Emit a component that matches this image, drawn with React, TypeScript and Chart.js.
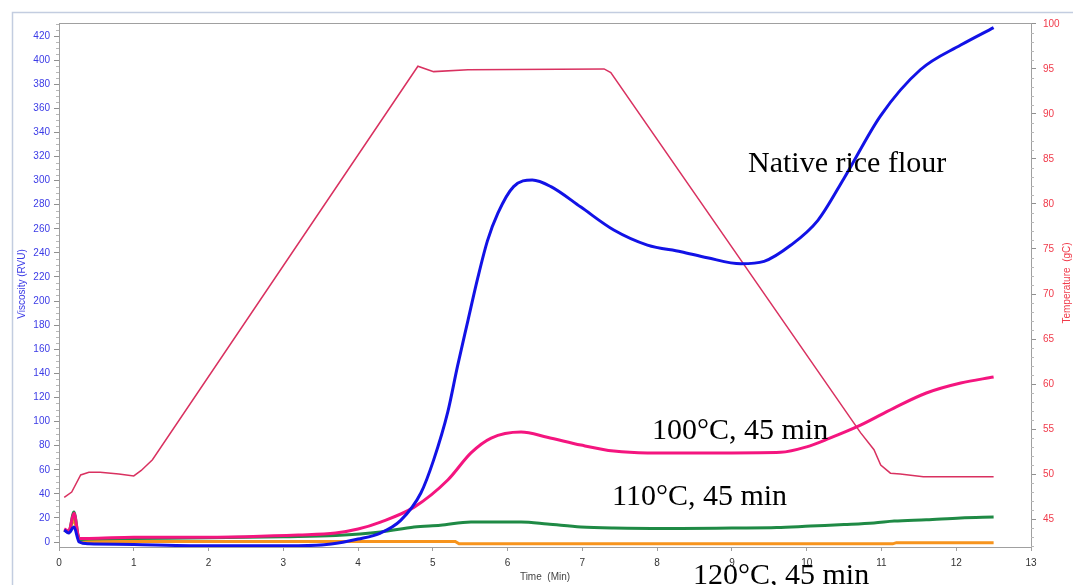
import React, { useEffect, useRef } from "react";
import { Chart, registerables } from "chart.js";

Chart.register(...registerables);

// ---- Data (time in min) ----
const nativeTime = [0.07, 0.13, 0.2, 0.27, 0.4, 1.0, 1.76, 2.5, 3.2, 3.64, 4.0, 4.3, 4.57, 4.84, 5.01, 5.2, 5.33, 5.47, 5.6, 5.73, 5.87, 6.08, 6.33, 6.58, 6.98, 7.42, 7.87, 8.32, 8.67, 9.12, 9.43, 9.79, 10.15, 10.5, 10.99, 11.52, 12.06, 12.5];
const nativeVisc = [10, 7.5, 12.5, 0, -1.5, -2, -3, -3, -3, -1.7, 2.5, 7.5, 18, 40.7, 68, 108, 146, 184, 219, 250, 273, 295, 300.5, 295, 278, 259, 246.5, 241, 236, 231, 233, 246.5, 267, 302, 354, 392, 412.5, 427];

const t100Time = [0.07, 0.13, 0.2, 0.27, 0.4, 1.0, 1.76, 2.5, 3.2, 3.7, 4.0, 4.3, 4.75, 5.2, 5.51, 5.78, 6.18, 6.53, 6.98, 7.42, 7.87, 8.32, 9.0, 9.65, 10.0, 10.3, 10.72, 11.16, 11.6, 12.06, 12.5];
const t100Visc = [11, 9, 24, 3, 3, 4, 4, 4.5, 5.8, 7.5, 10.8, 16.6, 29, 51.5, 74, 86.3, 91.3, 87, 80.5, 75.5, 74, 74, 74, 74.5, 79, 86, 97, 111, 123.7, 132, 137];

const t110Time = [0.07, 0.13, 0.2, 0.27, 0.4, 1.0, 2.0, 3.0, 3.7, 4.3, 4.75, 5.1, 5.51, 6.18, 6.53, 6.98, 7.42, 8.32, 9.0, 9.6, 10.05, 10.5, 10.9, 11.17, 11.6, 12.06, 12.5];
const t110Visc = [10, 8, 25, 2, 2.5, 3, 3.5, 4.5, 5.5, 8.3, 12.5, 14, 16.6, 16.6, 15, 12.5, 11.6, 11.2, 11.6, 12, 13.3, 14.5, 15.8, 17.4, 18.5, 20, 20.7];

const t120Time = [0.07, 0.13, 0.2, 0.27, 0.4, 2.0, 4.0, 5.3, 5.35, 8.0, 11.15, 11.2, 12.5];
const t120Visc = [10, 8, 20, 1, 0.5, 0.5, 0.5, 0.5, -1.5, -1.5, -1.5, -0.5, -0.5];

const tempTime = [0.07, 0.17, 0.29, 0.4, 0.55, 0.8, 1.0, 1.1, 1.25, 4.8, 5.01, 5.47, 7.29, 7.38, 10.72, 10.9, 10.99, 11.12, 11.25, 11.56, 12.5];
const tempValues = [47.4, 48.0, 49.9, 50.2, 50.2, 50.0, 49.8, 50.4, 51.6, 95.3, 94.7, 94.9, 95.0, 94.6, 54.6, 52.7, 51.0, 50.1, 50.0, 49.7, 49.7];

// ---- Tick labels ----
const viscTicks = [0, 20, 40, 60, 80, 100, 120, 140, 160, 180, 200, 220, 240, 260, 280, 300, 320, 340, 360, 380, 400, 420];
const tempTicks = [45, 50, 55, 60, 65, 70, 75, 80, 85, 90, 95, 100];
const timeTicks = [0, 1, 2, 3, 4, 5, 6, 7, 8, 9, 10, 11, 12, 13];

// ---- Texts ----
const viscTitle = "Viscosity (RVU)";
const tempTitle = "Temperature  (gC)";
const timeTitle = "Time  (Min)";
const labelNative = "Native rice flour";
const label100 = "100°C, 45 min";
const label110 = "110°C, 45 min";
const label120 = "120°C, 45 min";

const pts = (t: number[], v: number[]) => t.map((x, i) => ({ x, y: v[i] }));

const decor = {
  id: "decor",
  beforeDraw(chart: any) {
    const { ctx } = chart;
    ctx.save();
    ctx.fillStyle = "#ffffff";
    ctx.fillRect(0, 0, chart.width, chart.height);
    ctx.strokeStyle = "#c3cde0";
    ctx.lineWidth = 1.5;
    ctx.strokeRect(12.5, 12.5, chart.width + 50, chart.height + 50);
    ctx.restore();
  },
  afterDraw(chart: any) {
    const { ctx, chartArea } = chart;
    const y = chart.scales.y;
    const y1 = chart.scales.y1;
    ctx.save();
    // plot border (top/right)
    ctx.strokeStyle = "#a0a0a0";
    ctx.lineWidth = 1;
    ctx.strokeRect(chartArea.left + 0.5, chartArea.top + 0.5, chartArea.right - chartArea.left, chartArea.bottom - chartArea.top);
    // minor ticks
    ctx.strokeStyle = "#b8b8b8";
    ctx.beginPath();
    for (let v = 0; v <= 430; v += 5) {
      if (v % 20 === 0) continue;
      const py = Math.round(y.getPixelForValue(v)) + 0.5;
      ctx.moveTo(chartArea.left - 3, py);
      ctx.lineTo(chartArea.left, py);
    }
    for (let v = 42; v <= 100; v += 1) {
      if (v % 5 === 0) continue;
      const py = Math.round(y1.getPixelForValue(v)) + 0.5;
      ctx.moveTo(chartArea.right, py);
      ctx.lineTo(chartArea.right + 3, py);
    }
    ctx.stroke();

    // axis titles
    ctx.font = "10px 'Liberation Sans', Arial, sans-serif";
    ctx.textAlign = "center";
    ctx.textBaseline = "middle";
    ctx.fillStyle = "#3b3be6";
    ctx.save();
    ctx.translate(22, 284);
    ctx.rotate(-Math.PI / 2);
    ctx.fillText(viscTitle, 0, 0);
    ctx.restore();
    ctx.fillStyle = "#f03a4a";
    ctx.save();
    ctx.translate(1067, 283);
    ctx.rotate(-Math.PI / 2);
    ctx.fillText(tempTitle, 0, 0);
    ctx.restore();
    ctx.fillStyle = "#444444";
    ctx.fillText(timeTitle, 545, 577);

    // annotations
    ctx.fillStyle = "#000000";
    ctx.font = "30px 'Liberation Serif', 'Times New Roman', serif";
    ctx.textAlign = "left";
    ctx.textBaseline = "alphabetic";
    ctx.fillText(labelNative, 748, 172);
    ctx.fillText(label100, 652, 439);
    ctx.fillText(label110, 612, 505);
    ctx.fillText(label120, 693, 584);
    ctx.restore();
  },
};

export default function App() {
  const ref = useRef<HTMLCanvasElement>(null);
  useEffect(() => {
    const canvas = ref.current;
    if (!canvas) return;
    const tickFont = { family: "'Liberation Sans', Arial, sans-serif", size: 10 };
    const chart = new Chart(canvas, {
      type: "line",
      data: {
        datasets: [
          { label: "Native rice flour", data: pts(nativeTime, nativeVisc), borderColor: "#1212e6", borderWidth: 3, yAxisID: "y", cubicInterpolationMode: "monotone", order: 0 },
          { label: "100°C, 45 min", data: pts(t100Time, t100Visc), borderColor: "#f4157f", borderWidth: 3, yAxisID: "y", cubicInterpolationMode: "monotone", order: 1 },
          { label: "110°C, 45 min", data: pts(t110Time, t110Visc), borderColor: "#1f8a45", borderWidth: 3, yAxisID: "y", cubicInterpolationMode: "monotone", order: 2 },
          { label: "120°C, 45 min", data: pts(t120Time, t120Visc), borderColor: "#f7941d", borderWidth: 3, yAxisID: "y", tension: 0, order: 3 },
          { label: "Temperature", data: pts(tempTime, tempValues), borderColor: "#d93160", borderWidth: 1.5, yAxisID: "y1", tension: 0, order: 4 },
        ],
      } as any,
      options: {
        responsive: false,
        animation: false,
        devicePixelRatio: 1,
        layout: { padding: { top: 23, left: 0, right: 0, bottom: 0 } },
        elements: { point: { radius: 0 } },
        plugins: { legend: { display: false }, tooltip: { enabled: false } },
        scales: {
          x: {
            type: "linear",
            min: 0,
            max: 13,
            afterBuildTicks: (a: any) => { a.ticks = timeTicks.map((v) => ({ value: v })); },
            afterFit: (s: any) => { s.height = 38; },
            grid: { drawOnChartArea: false, drawTicks: true, tickLength: 4, color: "#a0a0a0" },
            border: { display: true, color: "#a0a0a0" },
            ticks: { color: "#333333", padding: 6, font: tickFont, maxRotation: 0, autoSkip: false },
          },
          y: {
            type: "linear",
            position: "left",
            min: -4.1,
            max: 430.8,
            afterBuildTicks: (a: any) => { a.ticks = viscTicks.map((v) => ({ value: v })); },
            afterFit: (s: any) => { s.width = 59; },
            grid: { drawOnChartArea: false, drawTicks: true, tickLength: 5, color: "#909090" },
            border: { display: true, color: "#a0a0a0" },
            ticks: { color: "#3b3be6", padding: 4, font: tickFont, autoSkip: false },
          },
          y1: {
            type: "linear",
            position: "right",
            min: 41.9,
            max: 100.1,
            afterBuildTicks: (a: any) => { a.ticks = tempTicks.map((v) => ({ value: v })); },
            afterFit: (s: any) => { s.width = 42; },
            grid: { drawOnChartArea: false, drawTicks: true, tickLength: 5, color: "#909090" },
            border: { display: true, color: "#a0a0a0" },
            ticks: { color: "#f03a4a", padding: 7, font: tickFont, autoSkip: false },
          },
        },
      } as any,
      plugins: [decor],
    });
    return () => chart.destroy();
  }, []);
  return (
    <div style={{ position: "fixed", left: 0, top: 0, width: 1073, height: 585, background: "#fff" }}>
      <canvas ref={ref} width={1073} height={585} style={{ display: "block" }} />
    </div>
  );
}
